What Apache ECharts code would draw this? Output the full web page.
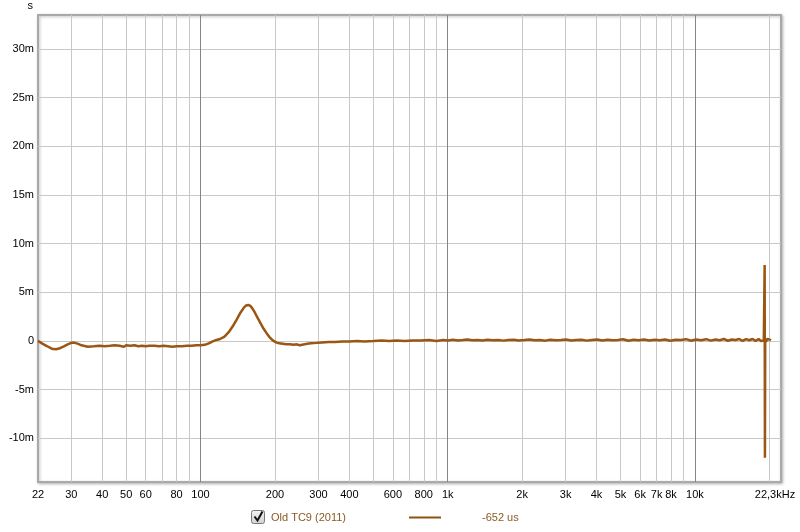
<!DOCTYPE html>
<html>
<head>
<meta charset="utf-8">
<script src="https://cdn.jsdelivr.net/npm/echarts@6/dist/echarts.min.js"></script>
<style>html,body{margin:0;padding:0;background:#fff;}#c{width:800px;height:532px;}</style>
</head>
<body>
<div id="c"></div>
<script>
// Frequencies (Hz) and group delay values (ms)
var freqs = [22,23,24,25,26,27,28,29,30,31,32,33,35,37,39,41,43,45,47,49,50,52,54,56,58,60,62,65,68,71,74,77,80,84,88,92,96,100,104,108,112,116,120,125,130,135,140,145,150,153,156,159,162,166,170,175,180,185,190,196,202,208,215,222,230,238,245,248,252,256,270,280,295,310,330,350,375,400,430,460,500,540,580,620,670,720,780,840,900,960,1000,
1050,1100,1150,1200,1260,1320,1380,1450,1520,1600,1680,1760,1850,1940,2040,2140,2250,2360,2480,2600,2730,2870,3010,3160,3320,3480,3650,3830,4020,4220,4430,4650,4880,5120,5380,5650,5930,6230,6540,6870,7210,7570,7950,8350,8770,9200,9660,10100,10600,11100,11600,12100,12600,13100,13600,14100,14600,15100,15600,16100,16600,17100,17600,18100,18500,18800,19000,19100,19150,19200,19250,19400,19600,19800,20000,20300];
var delays = [0.0,-0.3,-0.55,-0.8,-0.85,-0.75,-0.55,-0.35,-0.2,-0.2,-0.3,-0.45,-0.6,-0.55,-0.5,-0.55,-0.5,-0.45,-0.5,-0.6,-0.45,-0.5,-0.45,-0.55,-0.5,-0.55,-0.5,-0.5,-0.55,-0.5,-0.55,-0.6,-0.55,-0.55,-0.5,-0.5,-0.45,-0.45,-0.4,-0.25,-0.05,0.1,0.2,0.45,0.9,1.5,2.2,2.9,3.45,3.65,3.7,3.6,3.35,2.9,2.4,1.8,1.25,0.8,0.4,0.05,-0.15,-0.25,-0.3,-0.35,-0.35,-0.4,-0.35,-0.3,-0.45,-0.35,-0.3,-0.25,-0.2,-0.15,-0.1,-0.1,-0.05,-0.05,0.0,-0.05,0.0,0.05,0.0,0.05,0.0,0.05,0.05,0.1,0.0,0.1,0.05,
0.12,0.05,0.1,0.15,0.07,0.1,0.05,0.12,0.07,0.1,0.03,0.1,0.12,0.05,0.1,0.15,0.07,0.1,0.03,0.12,0.07,0.1,0.15,0.05,0.1,0.12,0.03,0.1,0.15,0.05,0.12,0.07,0.1,0.18,0.02,0.12,0.07,0.15,0.05,0.12,0.07,0.15,0.02,0.12,0.1,0.18,0.02,0.15,0.07,0.18,0.03,0.15,0.07,0.2,0.02,0.15,0.1,0.2,0.0,0.18,0.07,0.2,0.0,0.2,0.0,0.2,0.05,0.15,7.8,-12.0,0.25,-0.1,0.2,0.0,0.15,0.05];

var xGridFreqs = [30,40,50,60,70,80,90,100,200,300,400,500,600,700,800,900,1000,2000,3000,4000,5000,6000,7000,8000,9000,10000,20000];
var xLabelFreqs = [22,30,40,50,60,80,100,200,300,400,600,800,1000,2000,3000,4000,5000,6000,7000,8000,10000,22300];
var xLabelTexts = ['22','30','40','50','60','80','100','200','300','400','600','800','1k','2k','3k','4k','5k','6k','7k','8k','10k','22,3kHz'];
var yTicks = [-10,-5,0,5,10,15,20,25,30];
var yTickTexts = ['-10m','-5m','0','5m','10m','15m','20m','25m','30m'];

var seriesData = freqs.map(function(f, i){ return [Math.log10(f), delays[i]]; });
var labelMap = {};
xLabelFreqs.forEach(function(f, i){ labelMap[Math.log10(f).toFixed(5)] = xLabelTexts[i]; });
var yLabelMap = {};
yTicks.forEach(function(v, i){ yLabelMap[v] = yTickTexts[i]; });

var minorC = '#c8c8c8', majorC = '#858585';
// colors cycle per tick index: decades (100,1k,10k) fall on index 7 mod 9
var xSplitColors = [minorC,minorC,minorC,minorC,minorC,minorC,minorC,majorC,minorC];

var font = 'Liberation Sans, Arial, sans-serif';
var chart = echarts.init(document.getElementById('c'), null, {renderer:'canvas'});
chart.setOption({
  animation: false,
  backgroundColor: '#ffffff',
  grid: {left: 38, top: 14, right: 19, bottom: 50, show: true, backgroundColor: '#ffffff',
         borderColor: '#a9a9a9', borderWidth: 2,
         shadowColor: 'rgba(0,0,0,0.25)', shadowBlur: 3, shadowOffsetX: 1, shadowOffsetY: 1},
  xAxis: {
    type: 'value', min: Math.log10(22), max: Math.log10(22300),
    axisLine: {show: false},
    axisTick: {show: false, customValues: xGridFreqs.map(function(f){return Math.log10(f);})},
    splitLine: {show: true, lineStyle: {color: xSplitColors, width: 1}},
    axisLabel: {
      customValues: xLabelFreqs.map(function(f){return Math.log10(f);}),
      margin: 7, color: '#000', fontSize: 11, fontFamily: font,
      formatter: function(v){ var t = labelMap[v.toFixed(5)] || ''; return t === '22,3kHz' ? '{r|' + t + '}' : t; },
      rich: {r: {fontSize: 11, fontFamily: font, color: '#000', padding: [0, 12, 0, 0]}}
    }
  },
  yAxis: {
    type: 'value', min: -14.5, max: 33.5,
    name: 's', nameLocation: 'end', nameGap: 4,
    nameTextStyle: {color: '#000', fontSize: 11, fontFamily: font, align: 'right', padding: [0, 5, 0, 0]},
    axisLine: {show: false},
    axisTick: {show: false, customValues: yTicks},
    splitLine: {show: true, lineStyle: {color: minorC, width: 1}},
    axisLabel: {customValues: yTicks, margin: 4, color: '#000', fontSize: 11, fontFamily: font,
      formatter: function(v){ return yLabelMap[Math.round(v)] || ''; }}
  },
  series: [{
    type: 'line', data: seriesData, showSymbol: false, symbol: 'none',
    lineStyle: {color: '#9a5612', width: 2.5}, z: 5
  }],
  graphic: [
    {type: 'rect', shape: {x: 251.5, y: 510.5, width: 13, height: 13, r: 2},
     style: {fill: new echarts.graphic.LinearGradient(0,0,0,1,[{offset:0,color:'#f4f4f4'},{offset:1,color:'#d0d0d0'}]), stroke: '#7a7a7a', lineWidth: 1}},
    {type: 'polyline', shape: {points: [[254.5,516.5],[257.5,520.5],[262.5,511.5]]},
     style: {stroke: '#111', lineWidth: 2, fill: null}},
    {type: 'text', x: 271, y: 518, style: {text: 'Old TC9 (2011)', fill: '#8a5a24', font: '11px ' + font, verticalAlign: 'middle'}},
    {type: 'line', shape: {x1: 409, y1: 517.5, x2: 441, y2: 517.5}, style: {stroke: '#8e5214', lineWidth: 2}},
    {type: 'text', x: 482, y: 518, style: {text: '-652 us', fill: '#8a5a24', font: '11px ' + font, verticalAlign: 'middle'}}
  ]
});
</script>
</body>
</html>
